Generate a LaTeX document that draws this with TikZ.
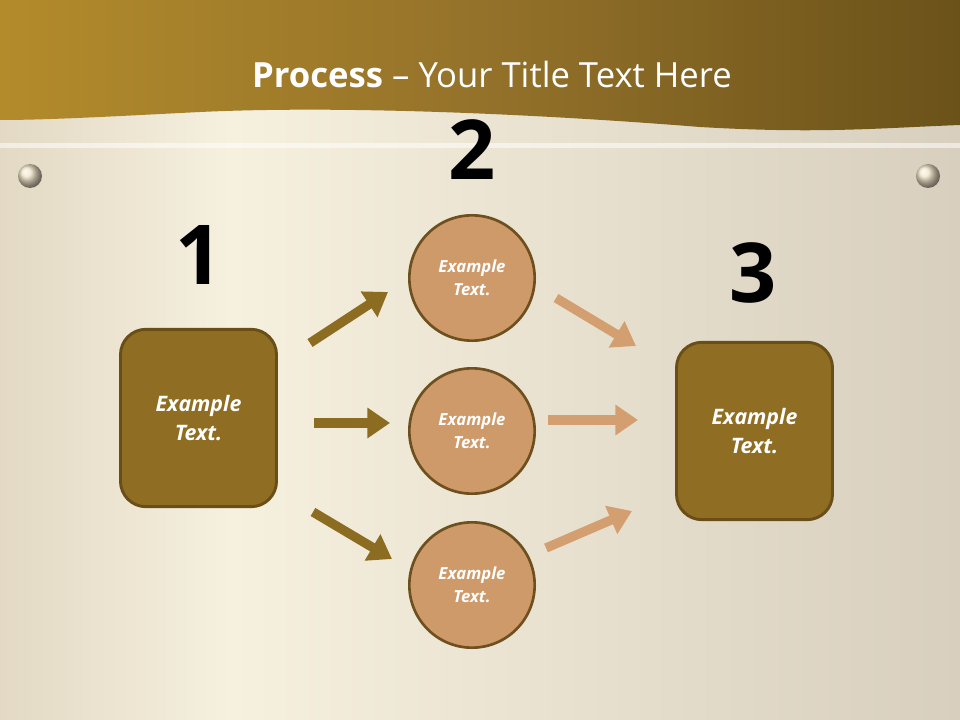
\documentclass[tikz,border=0pt]{standalone}
\usepackage{fontspec}
\setmainfont{Open Sans}
\usetikzlibrary{arrows.meta,shadings}
\definecolor{boxfill}{HTML}{8F6E23}
\definecolor{boxline}{HTML}{6A4E18}
\definecolor{circfill}{HTML}{CF9A6A}
\definecolor{circline}{HTML}{6E501F}
\definecolor{arrdark}{HTML}{8C6C20}
\definecolor{arrlight}{HTML}{D49F70}
\definecolor{bgl}{HTML}{E3D9C4}
\definecolor{bgm}{HTML}{F6F0DF}
\definecolor{bgr}{HTML}{D8CFBE}
\definecolor{topl}{HTML}{B38B2B}
\definecolor{topm}{HTML}{94722A}
\definecolor{topr}{HTML}{6B5219}
\definecolor{pin}{HTML}{F0E4C8}
\tikzset{
  sqbox/.style={draw=boxline,line width=2.2pt,fill=boxfill,rounded corners=19pt,minimum width=117pt,minimum height=133pt,text=white,font=\bfseries\itshape\fontsize{16}{22}\selectfont,align=center},
  circ/.style={circle,draw=circline,line width=2pt,fill=circfill,minimum size=94pt,text=white,font=\bfseries\itshape\fontsize{12.5}{17}\selectfont,align=center},
  num/.style={font=\bfseries\fontsize{62}{62}\selectfont},
  blk/.style={line width=7pt,-{Triangle[length=17pt,width=22pt]}},
}
\begin{document}
\begin{tikzpicture}[x=0.75pt,y=-0.75pt]
\useasboundingbox (0,0) rectangle (960,720);
% background
\shade[left color=bgl, right color=bgm] (0,0) rectangle (231,720);
\shade[left color=bgm, right color=bgr] (230,0) rectangle (960,720);
% top band
\shade[left color=topl, right color=topr, middle color=topm]
 (0,0) -- (960,0) -- (960,125) .. controls (880,128) and (820,134) .. (700,127) .. controls (550,115) and (350,105) .. (200,112) .. controls (120,116) and (50,120) .. (0,120) -- cycle;
\fill[white,opacity=0.55] (0,143) rectangle (960,148);
% pins
\shade[ball color=pin] (30,176) circle (12);
\shade[ball color=pin] (928,176) circle (12);
% title
\node (title) at (492,75) {\color{white}\fontsize{26}{30}\selectfont\textbf{Process} – Your Title Text Here};
% numbers
\node[num] (n1) at (199,255) {1};
\node[num] (n2) at (472,150) {2};
\node[num] (n3) at (753,273) {3};
% boxes
\node[sqbox] (b1) at (198.5,418) {Example\\Text.};
\node[sqbox] (b3) at (754.5,431) {Example\\Text.};
\node[circ] (c1) at (472,278) {Example\\Text.};
\node[circ] (c2) at (472,431) {Example\\Text.};
\node[circ] (c3) at (472,585) {Example\\Text.};
% arrow coordinates
\coordinate (a1s) at (310,343); \coordinate (a1e) at (388,292);
\coordinate (a2s) at (314,423); \coordinate (a2e) at (390,423);
\coordinate (a3s) at (313,512); \coordinate (a3e) at (392,559);
\coordinate (r1s) at (556,298); \coordinate (r1e) at (636,346);
\coordinate (r2s) at (548,420); \coordinate (r2e) at (638,420);
\coordinate (r3s) at (546,548); \coordinate (r3e) at (632,511);
\draw[blk,arrdark] (a1s) -- (a1e);
\draw[blk,arrdark] (a2s) -- (a2e);
\draw[blk,arrdark] (a3s) -- (a3e);
\draw[blk,arrlight] (r1s) -- (r1e);
\draw[blk,arrlight] (r2s) -- (r2e);
\draw[blk,arrlight] (r3s) -- (r3e);
\end{tikzpicture}
\end{document}
